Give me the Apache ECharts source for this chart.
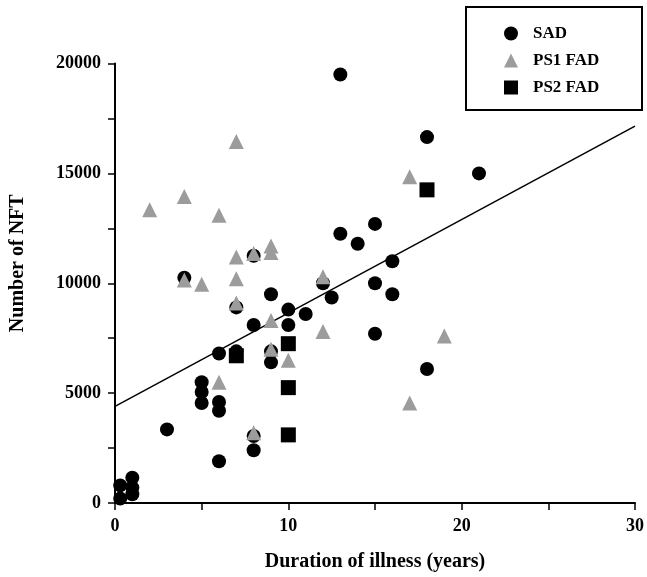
<!DOCTYPE html>
<html>
<head>
<meta charset="utf-8">
<script src="https://cdn.jsdelivr.net/npm/echarts@6/dist/echarts.min.js"></script>
<style>
  html, body { margin: 0; padding: 0; background: #fff; }
  #chart { width: 647px; height: 577px; }
</style>
</head>
<body>
<div id="chart"></div>
<script>
// [duration (years), NFT count]
const sadPoints = [
  [0.3, 200], [0.3, 800], [1, 1150], [1, 700], [1, 400],
  [3, 3350], [4, 10250],
  [5, 5500], [5, 5050], [5, 4550],
  [6, 4600], [6, 4200], [6, 1900], [6, 6800],
  [7, 6900], [7, 8900],
  [8, 11250], [8, 8100], [8, 3050], [8, 2400],
  [9, 9500], [9, 6900], [9, 6400],
  [10, 8800], [10, 8100], [11, 8600],
  [12, 10000], [12.5, 9350],
  [13, 19500], [13, 12250], [14, 11800],
  [15, 12700], [15, 10000], [15, 7700],
  [16, 11000], [16, 9500],
  [18, 16650], [18, 6100], [21, 15000]
]
const ps1Points = [
  [2, 13350], [4, 13950], [4, 10150], [5, 9950], [6, 13100], [6, 5500],
  [7, 16450], [7, 11200], [7, 10200], [7, 9100],
  [8, 11350], [8, 3200],
  [9, 11400], [9, 11700], [9, 8300], [9, 7000],
  [10, 6500], [12, 10300], [12, 7800],
  [17, 14850], [17, 4550], [19, 7600]
]
const ps2Points = [[7, 6700], [10, 7250], [10, 5250], [10, 3100], [18, 14250]]
const fitLine = [[0, 4400], [30, 17150]]

const xTicks = { min: 0, max: 30, interval: 10 }
const yTicks = { min: 0, max: 20000, interval: 5000 }

const serif = '"Liberation Serif", "Times New Roman", serif'

const chart = echarts.init(document.getElementById('chart'))

const axisCommon = {
  axisLine: { show: true, lineStyle: { color: '#000', width: 2 } },
  axisTick: { show: true, inside: false, length: 7, lineStyle: { color: '#000', width: 1.5 } },
  minorTick: { show: true, splitNumber: 2, length: 7, lineStyle: { color: '#000', width: 1.5 } },
  splitLine: { show: false },
  axisLabel: { color: '#000', fontFamily: serif, fontWeight: 'bold', fontSize: 18 },
  nameLocation: 'middle',
  nameTextStyle: { color: '#000', fontFamily: serif, fontWeight: 'bold', fontSize: 20 }
}

chart.setOption({
  animation: false,
  grid: { left: 115, right: 11, top: 63.5, bottom: 72.5, containLabel: false },
  xAxis: {
    ...axisCommon,
    type: 'value',
    ...xTicks,
    name: 'Duration of illness (years)',
    nameGap: 49,
    axisLabel: { ...axisCommon.axisLabel, margin: 14 }
  },
  yAxis: {
    ...axisCommon,
    type: 'value',
    ...yTicks,
    name: 'Number of NFT',
    nameGap: 87,
    nameTextStyle: { ...axisCommon.nameTextStyle, padding: [0, 0, 0, 40] },
    axisLabel: { ...axisCommon.axisLabel, margin: 14, formatter: (v) => String(v) }
  },
  legend: {
    orient: 'vertical',
    left: 504,
    top: 25,
    padding: 0,
    itemWidth: 14,
    itemHeight: 14,
    itemGap: 10,
    textStyle: { color: '#000', fontFamily: serif, fontWeight: 'bold', fontSize: 17, padding: [0, 0, 0, 10] },
    data: ['SAD', 'PS1 FAD', 'PS2 FAD']
  },
  graphic: [{
    type: 'rect',
    shape: { x: 466, y: 7, width: 176, height: 103 },
    style: { fill: 'none', stroke: '#000', lineWidth: 2 },
    silent: true
  }],
  series: [
    {
      name: 'fit',
      type: 'line',
      data: fitLine,
      symbol: 'none',
      lineStyle: { color: '#000', width: 1.5 },
      z: 1
    },
    {
      name: 'SAD',
      type: 'scatter',
      data: sadPoints,
      symbol: 'circle',
      symbolSize: 14,
      itemStyle: { color: '#000', opacity: 1 },
      z: 2
    },
    {
      name: 'PS1 FAD',
      type: 'scatter',
      data: ps1Points,
      symbol: 'triangle',
      symbolSize: 15,
      itemStyle: { color: '#9c9c9c', opacity: 1 },
      z: 3
    },
    {
      name: 'PS2 FAD',
      type: 'scatter',
      data: ps2Points,
      symbol: 'rect',
      symbolSize: 15,
      itemStyle: { color: '#000', opacity: 1 },
      z: 4
    }
  ]
})
</script>
</body>
</html>
